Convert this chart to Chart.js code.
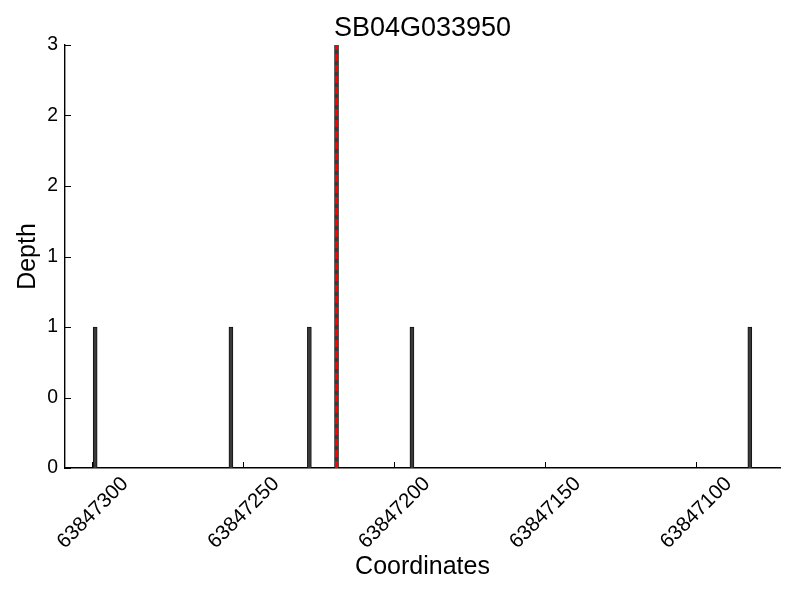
<!DOCTYPE html>
<html>
<head>
<meta charset="utf-8">
<script src="https://cdn.jsdelivr.net/npm/chart.js@4.4.1/dist/chart.umd.min.js"></script>
<style>
  html, body { margin: 0; padding: 0; background: #fff; }
  #wrap { width: 800px; height: 600px; }
</style>
</head>
<body>
<div id="wrap"><canvas id="c" width="800" height="600"></canvas></div>
<script>
const chartTitle = 'SB04G033950';
const xLabel = 'Coordinates';
const yLabel = 'Depth';

const positions = [63847299, 63847254, 63847228, 63847219, 63847194, 63847082];
const depths    = [1, 1, 1, 3, 1, 1];

const markerPos = 63847219;
const markerDepth = [0, 3];

const xMin = 63847072;
const xMax = 63847309;
const xTickValues = [63847300, 63847250, 63847200, 63847150, 63847100];
const xTickLabels = ['63847300', '63847250', '63847200', '63847150', '63847100'];

const yMin = 0;
const yMax = 3;
const yTickValues = [0, 0.5, 1, 1.5, 2, 2.5, 3];
const yTickLabels = ['0', '0', '1', '1', '2', '2', '3'];

const FONT = "'Liberation Sans', Arial, Helvetica, sans-serif";

const insideTicks = {
  id: 'insideTicks',
  afterDraw(chart) {
    const ctx = chart.ctx;
    const xs = chart.scales.x, ys = chart.scales.y;
    const area = chart.chartArea;
    ctx.save();
    ctx.strokeStyle = '#000';
    ctx.lineWidth = 1;
    ctx.beginPath();
    xs.ticks.forEach(t => {
      const px = Math.round(xs.getPixelForValue(t.value)) + 0.5;
      ctx.moveTo(px, area.bottom);
      ctx.lineTo(px, area.bottom - 6);
    });
    ys.ticks.forEach(t => {
      const py = Math.round(ys.getPixelForValue(t.value)) + 0.5;
      ctx.moveTo(area.left, py);
      ctx.lineTo(area.left + 6, py);
    });
    ctx.stroke();
    ctx.restore();
  }
};

new Chart(document.getElementById('c'), {
  type: 'bar',
  data: {
    datasets: [
      {
        type: 'line',
        data: markerDepth.map(d => ({ x: markerPos, y: d })),
        borderColor: '#ff0000',
        borderWidth: 3,
        borderDash: [7, 4],
        pointRadius: 0,
        fill: false,
        order: 0
      },
      {
        type: 'bar',
        data: positions.map((p, i) => ({ x: p, y: depths[i] })),
        backgroundColor: '#3a3a3a',
        borderColor: '#111111',
        borderWidth: 1,
        barThickness: 4,
        order: 1
      }
    ]
  },
  options: {
    responsive: false,
    animation: false,
    events: [],
    layout: { padding: { left: 0, right: 20, top: 0, bottom: 0 } },
    plugins: {
      legend: { display: false },
      tooltip: { enabled: false },
      title: {
        display: true,
        text: chartTitle,
        fullSize: false,
        color: '#000',
        font: { family: FONT, size: 27, weight: 'normal', lineHeight: 1.1 },
        padding: { top: 14, bottom: 1.3 }
      }
    },
    scales: {
      x: {
        type: 'linear',
        reverse: true,
        min: xMin,
        max: xMax,
        offset: false,
        grid: { display: false, drawTicks: false, offset: false },
        border: { display: true, color: '#000', width: 1.4 },
        afterBuildTicks(scale) {
          scale.ticks = xTickValues.map(v => ({ value: v }));
        },
        afterFit(scale) { scale.height = 132; },
        ticks: {
          autoSkip: false,
          includeBounds: false,
          maxRotation: 45,
          minRotation: 45,
          labelOffset: 33,
          padding: 4,
          color: '#000',
          font: { family: FONT, size: 20.5 },
          callback: (v, i) => xTickLabels[i]
        },
        title: {
          display: true,
          text: xLabel,
          color: '#000',
          font: { family: FONT, size: 25 },
          padding: { top: 0, bottom: 18 }
        }
      },
      y: {
        type: 'linear',
        min: yMin,
        max: yMax,
        grid: { display: false, drawTicks: false },
        border: { display: true, color: '#000', width: 1.4 },
        afterBuildTicks(scale) {
          scale.ticks = yTickValues.map(v => ({ value: v }));
        },
        afterFit(scale) { scale.width = 65; },
        ticks: {
          autoSkip: false,
          padding: 7,
          color: '#000',
          font: { family: FONT, size: 19.4 },
          callback: (v, i) => yTickLabels[i]
        },
        title: {
          display: true,
          text: yLabel,
          color: '#000',
          font: { family: FONT, size: 25 },
          padding: { top: 13, bottom: 0 }
        }
      }
    }
  },
  plugins: [insideTicks]
});
</script>
</body>
</html>
